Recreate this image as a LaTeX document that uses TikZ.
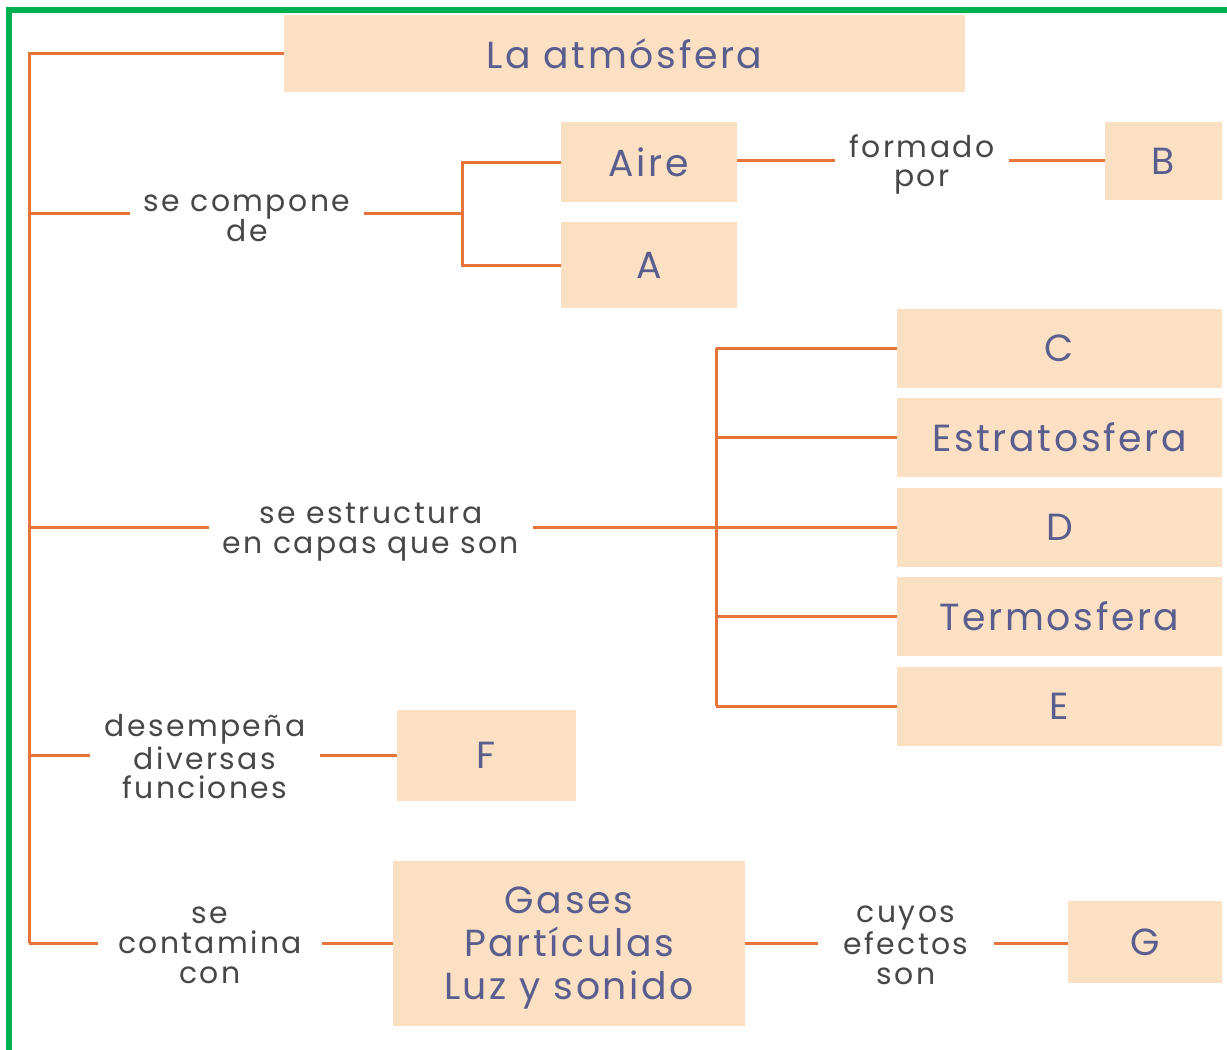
\documentclass[tikz,border=0pt]{standalone}
\usepackage{fontspec}
\setmainfont{Poppins}
\newfontfamily\conceptfont[LetterSpace=7]{Poppins}
\newfontfamily\linkfont[LetterSpace=8]{Poppins}
\usetikzlibrary{positioning}
\definecolor{frameGreen}{HTML}{00B050}
\definecolor{boxFill}{HTML}{FCE0C4}
\definecolor{linkOrange}{HTML}{E8733B}
\definecolor{boxText}{HTML}{5A5E8E}
\definecolor{labelText}{HTML}{474747}
\tikzset{
    concept/.style={
        fill = boxFill,
        text = boxText,
        inner sep = 0cm,
        align = center,
        font = \conceptfont\fontsize{21.5}{24.5}\selectfont
    },
    linktext/.style={
        text = labelText,
        align = center,
        inner xsep = 0.28cm,
        inner ysep = 0cm,
        font = \linkfont\fontsize{17}{17}\selectfont
    },
    link/.style={draw = linkOrange, line width = 0.06cm}
}

\begin{document}
\begin{tikzpicture}[x=0.02cm, y=-0.02cm]
    \useasboundingbox (0,0) rectangle (1227,1049);
    \draw[frameGreen, line width=0.12cm] (9,10) rectangle (1240,1062);

    % concepts
    \node [concept, minimum width=13.62cm, minimum height=1.54cm] (title) at (624.5,53.5) {La atmósfera};
    \node [concept, minimum width=3.52cm, minimum height=1.6cm] (aire) at (649,162) {Aire};
    \node [concept, minimum width=3.52cm, minimum height=1.72cm] (a) at (649,265) {A};
    \node [concept, minimum width=2.34cm, minimum height=1.56cm] (b) at (1163.5,161) {B};
    \foreach \txt [count=\i] in {C, Estratosfera, D, Termosfera, E}
        \node [concept, minimum width=6.5cm, minimum height=1.58cm] (l\i) at (1059.5,{348+89.5*(\i-1)}) {\txt};
    \node [concept, minimum width=3.58cm, minimum height=1.82cm] (f) at (486.5,755.5) {F};
    \node [concept, minimum width=7.04cm, minimum height=3.3cm, text depth=0cm] (gases) at (569,943.5) {Gases\\Partículas\\Luz y sonido};
    \node [concept, minimum width=3.08cm, minimum height=1.64cm] (g) at (1145,942) {G};

    % linking words
    \node [linktext] (cmp) at (247,218) {se compone\\de};
    \node [linktext] (frm) at (922,164.5) {formado\\por};
    \node [linktext] (str) at (371,532) {se estructura\\en capas que son};
    \node [linktext] (dsp) at (205,757) {desempeña\\diversas\\funciones};
    \node [linktext, inner xsep=0.4cm] (cnt) at (210,945) {se\\contamina\\con};
    \node [linktext, inner xsep=0.5cm] (cuy) at (906,945) {cuyos\\efectos\\son};

    % rows of the connectors
    \coordinate (top) at (29,53.5);
    \coordinate (fork1) at (462,213);
    \coordinate (fork2) at (716,527);
    \coordinate (rowB) at (0,160);
    \coordinate (rowF) at (0,755);
    \coordinate (rowG) at (0,943);

    % trunk
    \draw[link] (title.west) -- (top) -- (top |- rowG);
    \draw[link] (top |- fork1) -- (cmp.west |- fork1);
    \draw[link] (top |- fork2) -- (str.west |- fork2);
    \draw[link] (top |- rowF) -- (dsp.west |- rowF);
    \draw[link] (top |- rowG) -- (cnt.west |- rowG);

    % branches
    \draw[link] (cmp.east |- fork1) -- (fork1);
    \draw[link] (aire.west) -| (fork1) |- (a.west);
    \draw[link] (aire.east |- rowB) -- (frm.west |- rowB);
    \draw[link] (frm.east |- rowB) -- (b.west |- rowB);
    \draw[link] (str.east |- fork2) -- (fork2);
    \draw[link] (fork2 |- l1.west) -- (fork2 |- l5.west);
    \foreach \i in {1,...,5}
        \draw[link] (fork2 |- l\i.west) -- (l\i.west);
    \draw[link] (dsp.east |- rowF) -- (f.west |- rowF);
    \draw[link] (cnt.east |- rowG) -- (gases.west |- rowG);
    \draw[link] (gases.east |- rowG) -- (cuy.west |- rowG);
    \draw[link] (cuy.east |- rowG) -- (g.west |- rowG);
\end{tikzpicture}
\end{document}
